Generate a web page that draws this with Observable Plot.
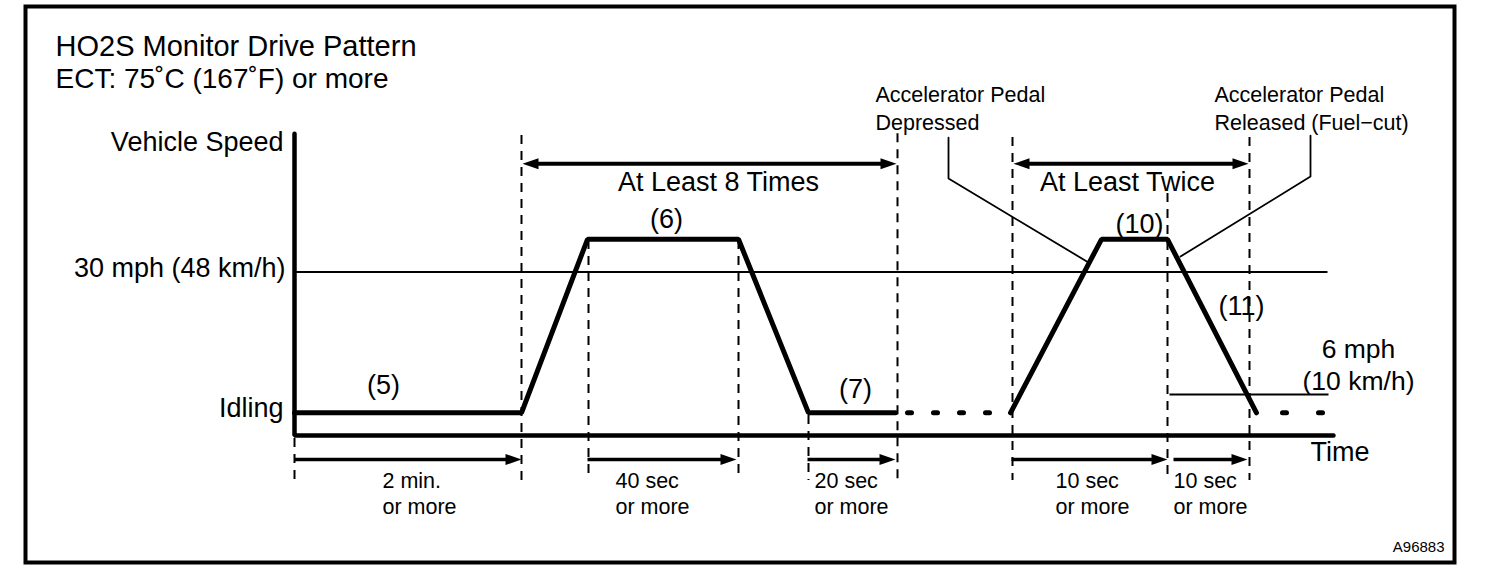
<!DOCTYPE html>
<html><head><meta charset="utf-8">
<script src="https://cdn.jsdelivr.net/npm/d3@7"></script>
<script src="https://cdn.jsdelivr.net/npm/@observablehq/plot@0.6"></script>
<style>html,body{margin:0;padding:0;background:#fff}</style>
</head><body><div id="chart"></div>
<script>
// ---------------- data (schematic time units, 0 = start of idling; speed in schematic mph) ----------------
const titleText = "HO2S Monitor Drive Pattern";
const subtitleText = "ECT: 75˚C (167˚F) or more";
const idleSpeed = 2.4;
const cruiseSpeed = 36.4;

// drive pattern, solid parts
const pattern1Time = [0, 227, 293, 444, 514, 601];
const pattern1Speed = [idleSpeed, idleSpeed, cruiseSpeed, cruiseSpeed, idleSpeed, idleSpeed];
const pattern2Time = [716, 807, 873, 962];
const pattern2Speed = [idleSpeed, cruiseSpeed, cruiseSpeed, idleSpeed];
// drive pattern, dotted (repeat) parts
const repeatGapTime = [601, 716];
const tailTime = [962, 1030];

// reference speed lines
const refSpeeds = [30, 6];
const refLineStart = [0, 875];
const refLineEnd = [1033, 1034];

// y axis labels
const yLabels = ["Vehicle Speed", "30 mph (48 km/h)", "Idling"];
const yLabelSpeed = [55.3, 30.7, 3.25];

// axes
const axisTime = [0, 0, 1039];
const axisSpeed = [57.1, -2.04, -2.04];

// phase boundaries (dashed verticals)
const phaseTime = [0, 227, 294, 444, 514, 603, 718, 873, 955];
const phaseTop = [-2.63, 56.72, 36.17, 36.17, 1.9, 57.1, 56.33, 45.38, 56.33];
const phaseBottom = -10.85;

// step labels
const stepLabels = ["(5)", "(6)", "(7)", "(10)", "(11)"];
const stepTime = [89, 372, 561, 845, 947];
const stepSpeed = [7.86, 40.25, 6.97, 39.26, 23.24];

// repeat arrows
const repeatLabels = ["At Least 8 Times", "At Least Twice"];
const repeatStart = [228, 719];
const repeatEnd = [602, 954];
const repeatLabelTime = [424, 833];
const repeatArrowSpeed = 51.2;
const repeatLabelSpeed = 47.63;

// duration arrows
const durationLabels = ["2 min.\nor more", "40 sec\nor more", "20 sec\nor more", "10 sec\nor more", "10 sec\nor more"];
const durationStart = [0, 293, 513, 717, 879];
const durationEnd = [227, 442, 601, 873, 953];
const durationLabelTime = [88, 321, 520, 761, 879];
const durationArrowSpeed = -6.74;
const durationLabelSpeed = -8.64;

// pedal notes with leader lines
const pedalNotes = ["Accelerator Pedal\nDepressed", "Accelerator Pedal\nReleased (Fuel−cut)"];
const pedalNoteTime = [581, 920];
const pedalNoteSpeed = 67.18;
const leaderTime = [[654, 654, 794], [1016, 1016, 886]];
const leaderSpeed = [[56.33, 48.31, 31.86], [56.72, 48.69, 33.03]];

const lowSpeedNote = "6 mph\n(10 km/h)";
const timeLabel = "Time";
const figureId = "A96883";

// ---------------- build ----------------
const font = "'Liberation Sans', Arial, Helvetica, sans-serif";
const head = {
  draw(ctx) { ctx.moveTo(0, 0); ctx.lineTo(5.5, 16); ctx.lineTo(-5.5, 16); ctx.closePath(); }
};
const leaders = leaderTime.flatMap((ts, k) => ts.map((t, i) => ({t, v: leaderSpeed[k][i], k})));

const chart = Plot.plot({
  width: 1504,
  height: 584,
  marginLeft: 25, marginTop: 6, marginRight: 50, marginBottom: 22,
  x: {domain: [-269, 1160], axis: null},
  y: {domain: [-26.92, 82.01], axis: null},
  style: {fontFamily: font, background: "white", overflow: "visible"},
  marks: [
    Plot.frame({stroke: "black", strokeWidth: 4}),
    // dashed phase boundaries
    Plot.ruleX(phaseTime, {x: d => d, y1: (d, i) => phaseTop[i], y2: phaseBottom, stroke: "black", strokeWidth: 2, strokeDasharray: "9,7"}),
    // reference speed lines
    Plot.link(refSpeeds, {x1: (d, i) => refLineStart[i], x2: (d, i) => refLineEnd[i], y1: d => d, y2: d => d, stroke: "black", strokeWidth: 2}),
    // axes
    Plot.line(axisTime, {x: d => d, y: (d, i) => axisSpeed[i], stroke: "black", strokeWidth: 4.5, strokeLinejoin: "miter", strokeLinecap: "round"}),
    // drive pattern
    Plot.line(pattern1Time, {x: d => d, y: (d, i) => pattern1Speed[i], stroke: "black", strokeWidth: 5, strokeLinejoin: "miter"}),
    Plot.line(pattern2Time, {x: d => d, y: (d, i) => pattern2Speed[i], stroke: "black", strokeWidth: 5, strokeLinejoin: "miter"}),
    Plot.line(repeatGapTime, {x: d => d, y: idleSpeed, stroke: "black", strokeWidth: 5, strokeDasharray: "4,22", strokeDashoffset: 14, strokeLinecap: "round"}),
    Plot.line(tailTime, {x: d => d, y: idleSpeed, stroke: "black", strokeWidth: 5, strokeDasharray: "4,32", strokeDashoffset: 10, strokeLinecap: "round"}),
    // leader lines
    Plot.line(leaders, {x: "t", y: "v", z: "k", stroke: "black", strokeWidth: 1.8}),
    // repeat double arrows
    Plot.link(repeatLabels, {x1: (d, i) => repeatStart[i] + 10, x2: (d, i) => repeatEnd[i] - 10, y1: repeatArrowSpeed, y2: repeatArrowSpeed, stroke: "black", strokeWidth: 4}),
    Plot.dot(repeatStart, {x: d => d, y: repeatArrowSpeed, symbol: head, rotate: -90, fill: "black", stroke: "none"}),
    Plot.dot(repeatEnd, {x: d => d, y: repeatArrowSpeed, symbol: head, rotate: 90, fill: "black", stroke: "none"}),
    // duration arrows
    Plot.link(durationLabels, {x1: (d, i) => durationStart[i], x2: (d, i) => durationEnd[i] - 10, y1: durationArrowSpeed, y2: durationArrowSpeed, stroke: "black", strokeWidth: 3.5}),
    Plot.dot(durationEnd, {x: d => d, y: durationArrowSpeed, symbol: head, rotate: 90, fill: "black", stroke: "none"}),
    // texts
    Plot.text([titleText], {x: -239, y: 76.31, text: d => d, textAnchor: "start", lineAnchor: "top", fontSize: 29, fill: "black"}),
    Plot.text([subtitleText], {x: -239, y: 69.85, text: d => d, textAnchor: "start", lineAnchor: "top", fontSize: 28, fill: "black"}),
    Plot.text(yLabels, {x: (d, i) => (i === 1 ? -9 : -11), y: (d, i) => yLabelSpeed[i], text: d => d, textAnchor: "end", lineAnchor: "middle", fontSize: 27, fill: "black"}),
    Plot.text(stepLabels, {x: (d, i) => stepTime[i], y: (d, i) => stepSpeed[i], text: d => d, textAnchor: "middle", lineAnchor: "middle", fontSize: 27, fill: "black"}),
    Plot.text(repeatLabels, {x: (d, i) => repeatLabelTime[i], y: repeatLabelSpeed, text: d => d, textAnchor: "middle", lineAnchor: "middle", fontSize: 27, fill: "black"}),
    Plot.text(durationLabels, {x: (d, i) => durationLabelTime[i], y: durationLabelSpeed, text: d => d, textAnchor: "start", lineAnchor: "top", lineHeight: 1.21, fontSize: 21.5, fill: "black"}),
    Plot.text(pedalNotes, {x: (d, i) => pedalNoteTime[i], y: pedalNoteSpeed, text: d => d, textAnchor: "start", lineAnchor: "top", lineHeight: 1.3, fontSize: 21.5, fill: "black"}),
    Plot.text([lowSpeedNote], {x: 1064, y: 17.69, text: d => d, textAnchor: "middle", lineAnchor: "top", lineHeight: 1.21, fontSize: 26.5, fill: "black"}),
    Plot.text([timeLabel], {x: 1016, y: -5.41, text: d => d, textAnchor: "start", lineAnchor: "middle", fontSize: 27, fill: "black"}),
    Plot.text([figureId], {x: 1150, y: -23.98, text: d => d, textAnchor: "end", lineAnchor: "middle", fontSize: 15, fill: "black"})
  ]
});
document.getElementById("chart").appendChild(chart);
</script>
</body></html>
